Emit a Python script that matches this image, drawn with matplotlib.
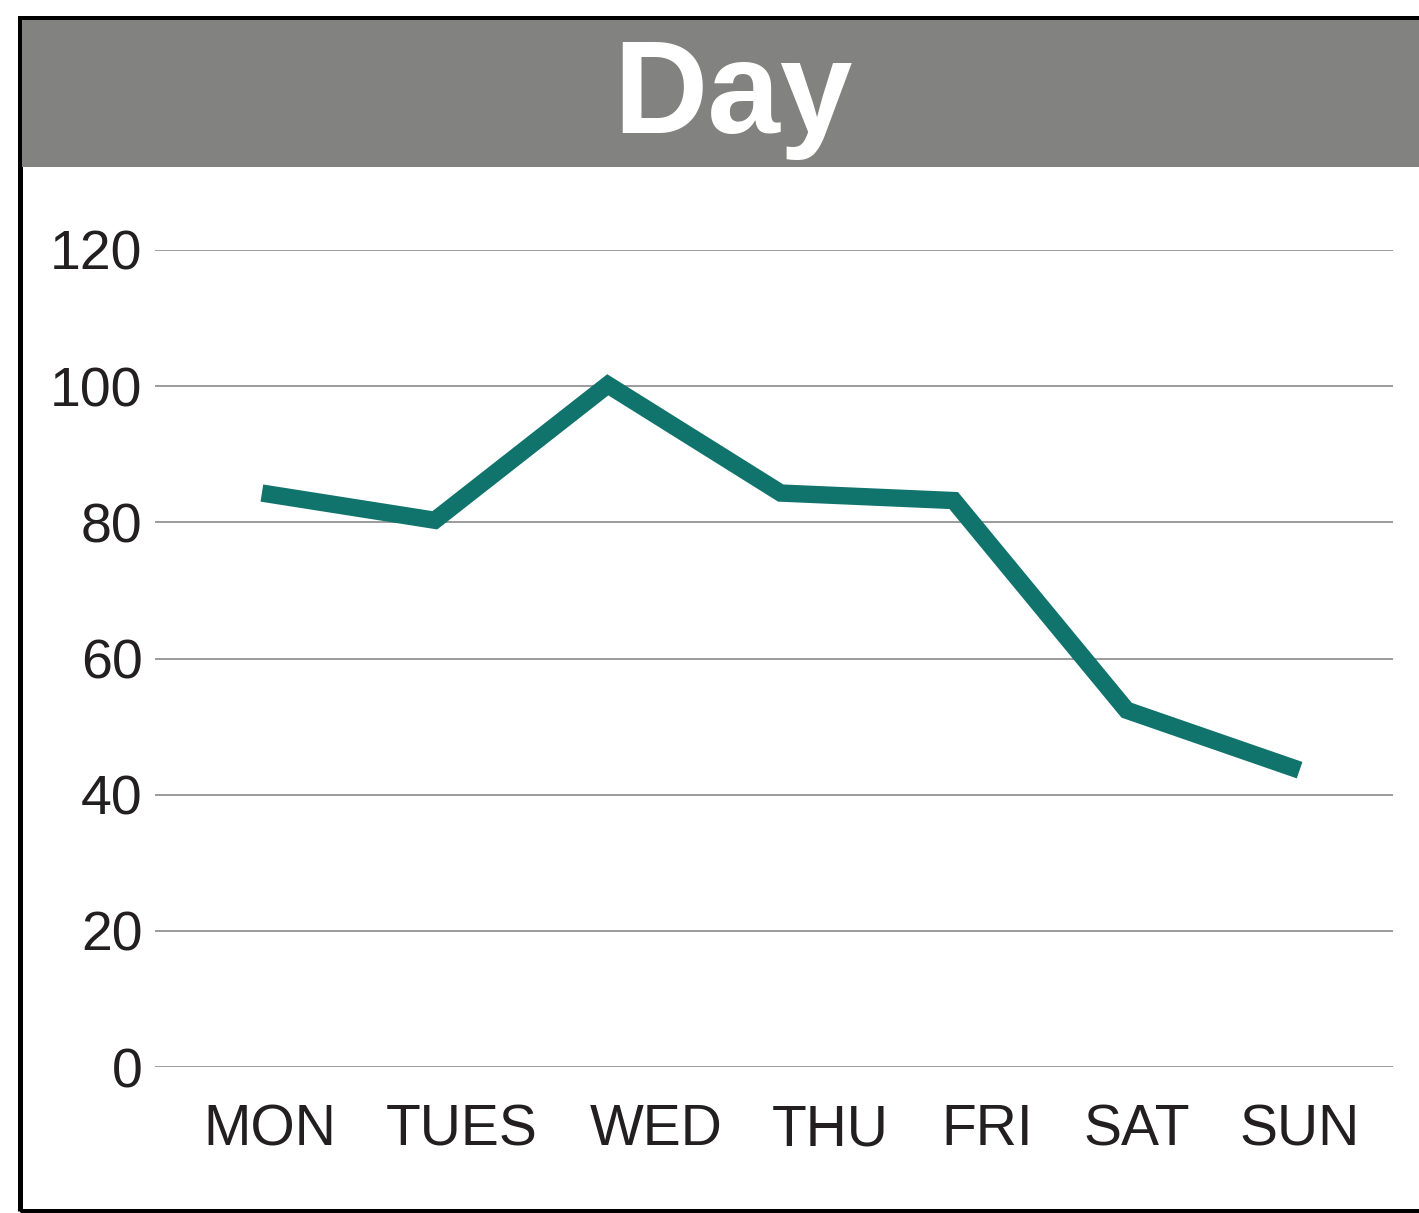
import matplotlib.pyplot as plt
import matplotlib.patches as mpatches
from matplotlib.transforms import ScaledTranslation

# dados
dias = ['MON', 'TUES', 'WED', 'THU', 'FRI', 'SAT', 'SUN']
valores = [84.3, 80.3, 100.2, 84.3, 83.2, 52.4, 43.6]
yticks = [0, 20, 40, 60, 80, 100, 120]

# deslocamento horizontal dos rotulos (px), so layout
desloc_rotulos = [8, 27, 48, 49, 33, 10, 0]

W, H = 1419, 1213
fig = plt.figure(figsize=(W / 100, H / 100), dpi=100)
plt.rcParams['font.family'] = ['Liberation Sans', 'DejaVu Sans']

# moldura preta e faixa cinza do titulo
fig.patches.append(mpatches.Rectangle((19.5 / W, 1 - 1210.5 / H), 1.1, (1210.5 - 17.5) / H,
                                      transform=fig.transFigure, fill=False,
                                      edgecolor='black', linewidth=3.6, zorder=0))
fig.patches.append(mpatches.Rectangle((22 / W, 1 - 167 / H), 1.0, (167 - 20) / H,
                                      transform=fig.transFigure, facecolor='#828380',
                                      edgecolor='none', zorder=1))
fig.text(733 / W, 1 - 98 / H, 'Day', color='white', fontsize=94, weight='bold',
         ha='center', va='center')

ax = fig.add_axes([155 / W, 1 - 1067 / H, (1393 - 155) / W, (1067 - 250) / H])
x = list(range(len(dias)))
ax.plot(x, valores, color='#10736C', linewidth=12.5, solid_capstyle='butt',
        solid_joinstyle='miter', zorder=3, clip_on=False)

ax.set_ylim(0, 120)
ax.set_xlim(-0.618, 6.54)
ax.set_yticks(yticks)
ax.set_xticks(x)
ax.set_xticklabels(dias)
ax.grid(axis='y', color='#8a8a8a', linewidth=1.2)
ax.set_axisbelow(True)
for s in ax.spines.values():
    s.set_visible(False)
ax.tick_params(axis='both', length=0, colors='#231F20', labelsize=40)
ax.tick_params(axis='y', pad=9)
ax.tick_params(axis='x', labelsize=41, pad=26)

for lbl, dx in zip(ax.get_xticklabels(), desloc_rotulos):
    lbl.set_transform(lbl.get_transform() + ScaledTranslation(dx / 100, 0, fig.dpi_scale_trans))

fig.savefig('out.png', dpi=100)
